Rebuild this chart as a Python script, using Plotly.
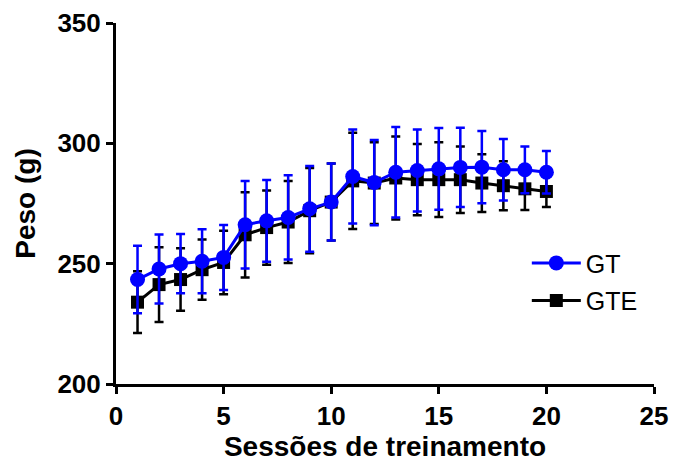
import plotly.graph_objects as go

sessoes = list(range(1, 21))
gt = [243.4, 247.8, 250.0, 251.0, 252.6, 266.2, 267.8, 269.2, 272.8, 275.6,
      286.2, 283.7, 288.0, 288.7, 289.4, 290.0, 290.1, 289.0, 289.0, 288.0]
gt_err = [14.0, 14.3, 12.3, 13.3, 13.5, 18.2, 17.0, 17.5, 17.8, 16.0,
          19.5, 17.7, 18.8, 17.0, 17.0, 16.5, 15.0, 12.8, 9.7, 8.8]
gte = [234.0, 241.3, 243.4, 247.5, 250.5, 262.0, 265.0, 267.3, 272.0, 275.6,
       284.4, 283.5, 285.6, 284.9, 284.9, 284.9, 283.5, 282.4, 281.1, 280.0]
gte_err = [12.8, 15.5, 13.0, 12.5, 13.2, 17.7, 15.4, 17.0, 17.7, 16.0,
           20.0, 17.0, 17.2, 14.8, 15.5, 13.8, 12.0, 10.2, 8.8, 6.5]
x_ticks = [0, 5, 10, 15, 20, 25]
y_ticks = [200, 250, 300, 350]

FONT = "Liberation Sans"
BLUE = "#0000FF"

fig = go.Figure()
fig.add_trace(go.Scatter(
    x=sessoes, y=gte, name="GTE", legendgroup="gte", legendrank=2,
    mode="lines+markers",
    line=dict(color="black", width=3),
    marker=dict(symbol="square", size=13, color="black"),
    error_y=dict(type="data", array=gte_err, color="black", thickness=2.5, width=4.5),
))
fig.add_trace(go.Scatter(
    x=sessoes, y=gt, name="GT", legendgroup="gt", legendrank=1,
    mode="lines+markers",
    line=dict(color=BLUE, width=3),
    marker=dict(symbol="circle", size=15, color=BLUE),
    error_y=dict(type="data", array=gt_err, color=BLUE, thickness=2.5, width=4.5),
))

axis_common = dict(
    showline=True, linecolor="black", linewidth=3, mirror=False,
    ticks="outside", ticklen=7, tickwidth=3, tickcolor="black",
    showgrid=False, zeroline=False, automargin=False,
    tickfont=dict(family=FONT, size=26, color="black", weight=700),
)

fig.update_layout(
    width=675, height=468,
    margin=dict(l=116, r=21, t=23, b=84),
    paper_bgcolor="white", plot_bgcolor="white",
    font=dict(family=FONT, color="black"),
    xaxis=dict(range=[0, 25], tickvals=x_ticks,
               title=dict(text="Sessões de treinamento", standoff=6,
                          font=dict(family=FONT, size=28, color="black", weight=700)),
               **axis_common),
    yaxis=dict(range=[200, 350], tickvals=y_ticks,
               title=dict(text="Peso (g)", standoff=14,
                          font=dict(family=FONT, size=28, color="black", weight=700)),
               **axis_common),
    legend=dict(x=0.7636, y=0.3985, xanchor="left", yanchor="top",
                traceorder="grouped", tracegroupgap=2,
                font=dict(family=FONT, size=25, color="black"),
                bgcolor="rgba(0,0,0,0)", itemwidth=49),
    showlegend=True,
)

fig.write_html(
    "out.html",
    config={"displayModeBar": False},
    post_script="document.body.style.margin='0px'; document.body.style.overflow='hidden';",
)
